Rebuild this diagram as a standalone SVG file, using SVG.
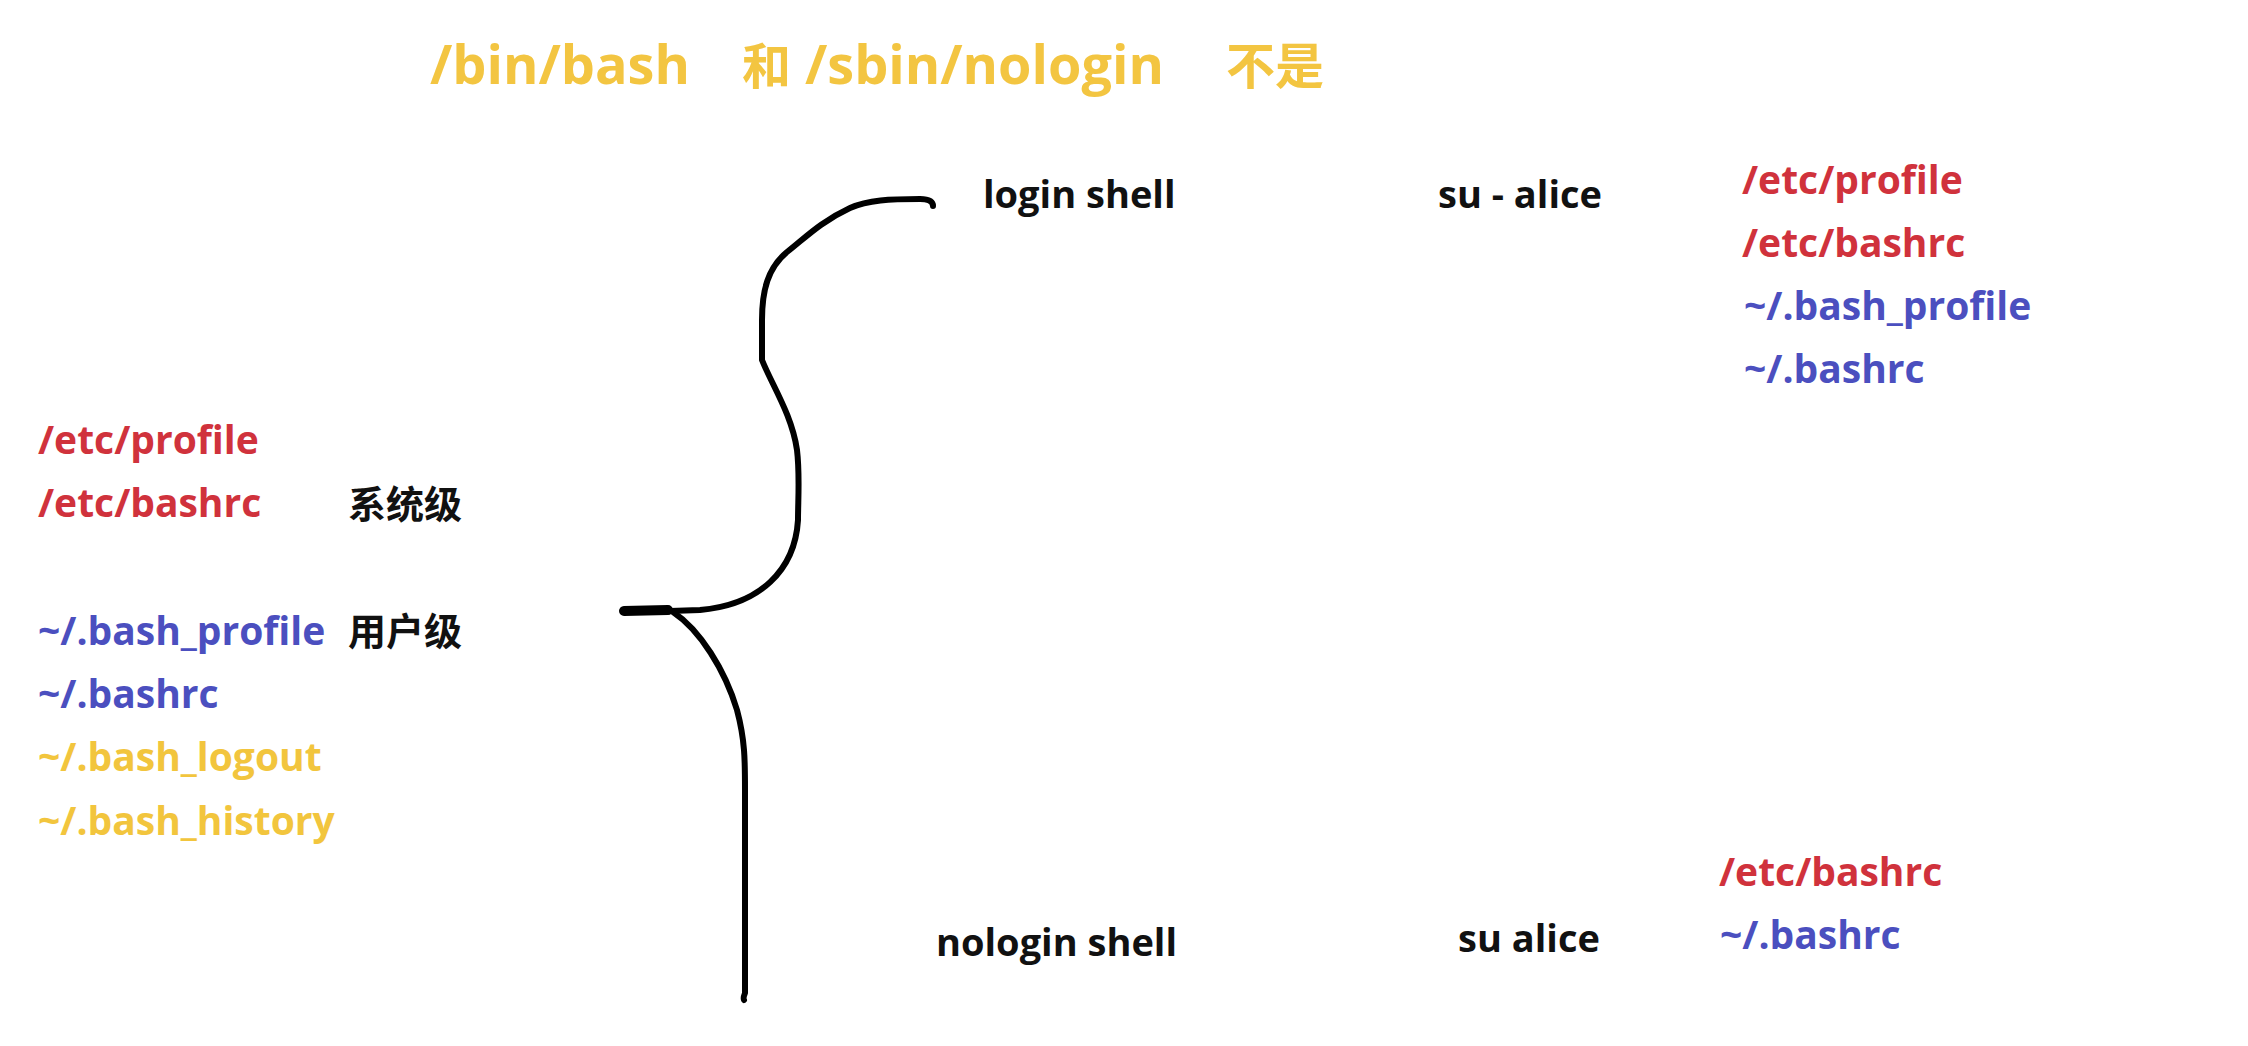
<svg xmlns="http://www.w3.org/2000/svg" width="2248" height="1046" viewBox="0 0 2248 1046">
<style>
text { font-family: "Open Sans", "Noto Sans", "Noto Sans CJK SC", sans-serif; font-weight: 700; }
.cjk { font-family: "Noto Sans CJK SC", sans-serif; font-weight: 700; }
.tcjk { font-size: 49px; }
.title { fill: #f3c541; font-size: 54px; }
.red { fill: #d0323c; font-size: 39px; }
.blue { fill: #4b4fbf; font-size: 39px; }
.yel { fill: #f2c53d; font-size: 39px; }
.blk { fill: #111111; font-size: 38px; }
.brace { fill: none; stroke: #000; stroke-width: 6; stroke-linecap: round; stroke-linejoin: round; }
</style>
<rect width="2248" height="1046" fill="#ffffff"/>
<g id="title">
<text class="title" y="84"><tspan x="430">/bin/bash</tspan><tspan class="cjk tcjk" x="742">和</tspan><tspan x="805">/sbin/nologin</tspan><tspan class="cjk tcjk" x="1226">不是</tspan></text>
</g>
<g id="left-files">
<text class="red" x="38" y="454">/etc/profile</text>
<text class="red" x="38" y="517">/etc/bashrc</text>
<text class="cjk blk" x="348" y="518">系统级</text>
<text class="blue" x="38" y="645">~/.bash_profile</text>
<text class="cjk blk" x="348" y="645">用户级</text>
<text class="blue" x="38" y="708">~/.bashrc</text>
<text class="yel" x="38" y="771">~/.bash_logout</text>
<text class="yel" x="38" y="835">~/.bash_history</text>
</g>
<g id="login">
<text class="blk" x="983" y="208">login shell</text>
<text class="blk" x="1438" y="208">su - alice</text>
<text class="red" x="1742" y="194">/etc/profile</text>
<text class="red" x="1742" y="257">/etc/bashrc</text>
<text class="blue" x="1744" y="320">~/.bash_profile</text>
<text class="blue" x="1744" y="383">~/.bashrc</text>
</g>
<g id="nologin">
<text class="blk" x="936" y="956">nologin shell</text>
<text class="blk" x="1458" y="952">su alice</text>
<text class="red" x="1719" y="886">/etc/bashrc</text>
<text class="blue" x="1720" y="949">~/.bashrc</text>
</g>
<g id="connectors">
<path class="brace" d="M 933,206 Q 933,199 920,199 C 890,199 868,200 850,208 C 820,222 805,238 787,252 C 768,268 762,290 762,320 L 762,360 C 772,385 792,415 797,450 C 800,475 798,500 798,520 C 795,570 760,605 700,610 L 670,611"/>
<path class="brace" style="stroke-width:10" d="M 624,611 L 668,610"/>
<path class="brace" d="M 673,612 C 700,630 725,670 737,710 C 745,740 745,760 745,790 L 745,993 Q 743,998 744,1000"/>
</g>
</svg>
